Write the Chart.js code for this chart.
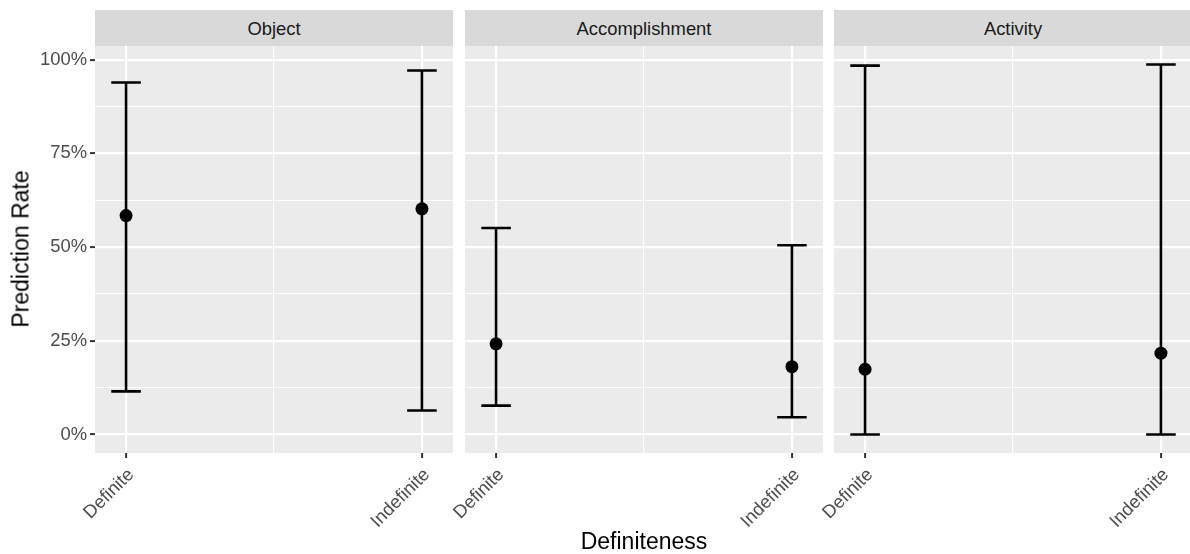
<!DOCTYPE html>
<html>
<head>
<meta charset="utf-8">
<script src="https://cdn.jsdelivr.net/npm/chart.js@4.4.1/dist/chart.umd.min.js"></script>
<style>
  html, body { margin:0; padding:0; background:#fff; }
  #wrap { position:relative; width:1190px; height:554px; overflow:hidden; background:#fff; font-family:"Liberation Sans", Arial, sans-serif; }
  .strip { position:absolute; top:10px; height:36px; line-height:37px; background:#D9D9D9; color:#1A1A1A; font-size:18.4px; text-align:center; }
  canvas { position:absolute; top:46px; }
  #ytitle { position:absolute; left:21px; top:249px; transform:translate(-50%,-50%) rotate(-90deg); font-size:23px; color:#000; white-space:nowrap; }
  #xtitle { position:absolute; left:644px; top:528px; transform:translateX(-50%); font-size:23px; color:#000; white-space:nowrap; line-height:26px; }
</style>
</head>
<body>
<div id="wrap">
  <div class="strip" id="s0" style="left:95px;width:358px;"></div>
  <div class="strip" id="s1" style="left:465px;width:358px;"></div>
  <div class="strip" id="s2" style="left:834px;width:358px;"></div>
  <canvas id="c0" width="453" height="508" style="left:0px;width:453px;height:508px;"></canvas>
  <canvas id="c1" width="418" height="508" style="left:405px;width:418px;height:508px;"></canvas>
  <canvas id="c2" width="418" height="508" style="left:774px;width:418px;height:508px;"></canvas>
  <div id="ytitle">Prediction Rate</div>
  <div id="xtitle">Definiteness</div>
</div>
<script>
// ---- data ----
const facets = ['Object', 'Accomplishment', 'Activity'];
const categories = ['Definite', 'Indefinite'];
const rateObject = [58.4, 60.2];
const lowerObject = [11.5, 6.4];
const upperObject = [93.9, 97.1];
const rateAccomplishment = [24.2, 18.1];
const lowerAccomplishment = [7.7, 4.6];
const upperAccomplishment = [55.1, 50.5];
const rateActivity = [17.4, 21.7];
const lowerActivity = [0, 0];
const upperActivity = [98.4, 98.7];
const yTickValues = [0, 25, 50, 75, 100];
const xTitle = 'Definiteness';
const yTitle = 'Prediction Rate';

// ---- build ----
const panels = [
  { name: facets[0], rate: rateObject, lower: lowerObject, upper: upperObject },
  { name: facets[1], rate: rateAccomplishment, lower: lowerAccomplishment, upper: upperAccomplishment },
  { name: facets[2], rate: rateActivity, lower: lowerActivity, upper: upperActivity }
];
document.getElementById('xtitle').textContent = xTitle;
document.getElementById('ytitle').textContent = yTitle;

const allLo = Math.min(...panels.flatMap(p => p.lower));
const allHi = Math.max(...panels.flatMap(p => p.upper));
const yPad = 0.05 * (allHi - allLo);
const yMin = allLo - yPad, yMax = allHi + yPad;

const capHalf = 0.05;
const xLo = 1 - capHalf, xHi = categories.length + capHalf;
const xPad = 0.05 * (xHi - xLo);
const xMin = xLo - xPad, xMax = xHi + xPad;

// major + minor grid positions
const yGrid = [];
yTickValues.forEach((v, i) => { yGrid.push(v); if (i < yTickValues.length - 1) yGrid.push((v + yTickValues[i + 1]) / 2); });
const xGrid = [];
categories.forEach((c, i) => { xGrid.push(i + 1); if (i < categories.length - 1) xGrid.push(i + 1.5); });

const isMajorY = v => yTickValues.includes(v);
const isMajorX = v => Number.isInteger(v);

const panelBg = {
  id: 'panelBg',
  beforeDraw(chart) {
    const { ctx, chartArea: a } = chart;
    ctx.save();
    ctx.fillStyle = '#EBEBEB';
    ctx.fillRect(a.left, a.top, a.right - a.left, a.bottom - a.top);
    ctx.restore();
  }
};

function whiskers(p) {
  const d = [];
  categories.forEach((c, i) => {
    const x = i + 1;
    d.push({ x: x - capHalf, y: p.upper[i] }, { x: x + capHalf, y: p.upper[i] }, { x: x, y: null });
    d.push({ x: x, y: p.upper[i] }, { x: x, y: p.lower[i] }, { x: x, y: null });
    d.push({ x: x - capHalf, y: p.lower[i] }, { x: x + capHalf, y: p.lower[i] }, { x: x, y: null });
  });
  return d;
}

const FONT = '"Liberation Sans", Arial, sans-serif';

panels.forEach((p, k) => {
  document.getElementById('s' + k).textContent = p.name;
  const first = k === 0;
  new Chart(document.getElementById('c' + k), {
    type: 'scatter',
    data: {
      datasets: [
        {
          label: 'rate',
          data: categories.map((c, i) => ({ x: i + 1, y: p.rate[i] })),
          pointRadius: 6.5,
          pointBackgroundColor: '#000',
          pointBorderWidth: 0,
          showLine: false
        },
        {
          label: 'ci',
          data: whiskers(p),
          showLine: true,
          spanGaps: false,
          pointRadius: 0,
          borderColor: '#000',
          borderWidth: 2.6,
          borderCapStyle: 'butt'
        }
      ]
    },
    options: {
      responsive: false,
      animation: false,
      devicePixelRatio: 1,
      layout: { padding: 0, autoPadding: false },
      plugins: { legend: { display: false }, tooltip: { enabled: false } },
      scales: {
        x: {
          type: 'linear',
          min: xMin, max: xMax,
          bounds: 'data',
          afterBuildTicks: s => { s.ticks = xGrid.map(v => ({ value: v })); },
          afterFit: s => { s.height = 101; s.paddingLeft = 0; s.paddingRight = 0; },
          border: { display: false },
          grid: {
            color: '#FFFFFF',
            lineWidth: c => (c.tick && isMajorX(c.tick.value)) ? 2.2 : 1.1,
            drawTicks: true,
            tickLength: 5,
            tickWidth: 2,
            tickColor: c => (c.tick && isMajorX(c.tick.value)) ? '#333333' : 'rgba(0,0,0,0)'
          },
          ticks: {
            autoSkip: false,
            minRotation: 45, maxRotation: 45,
            padding: 6,
            labelOffset: 5,
            color: '#4D4D4D',
            font: { family: FONT, size: 18.4 },
            callback: v => isMajorX(v) ? categories[v - 1] : ''
          }
        },
        y: {
          type: 'linear',
          min: yMin, max: yMax,
          bounds: 'data',
          afterBuildTicks: s => { s.ticks = yGrid.map(v => ({ value: v })); },
          afterFit: s => { s.width = first ? 95 : 60; s.paddingTop = 0; s.paddingBottom = 0; },
          border: { display: false },
          grid: {
            color: '#FFFFFF',
            lineWidth: c => (c.tick && isMajorY(c.tick.value)) ? 2.2 : 1.1,
            drawTicks: first,
            tickLength: 5,
            tickWidth: 2,
            tickColor: c => (c.tick && isMajorY(c.tick.value)) ? '#333333' : 'rgba(0,0,0,0)'
          },
          ticks: {
            display: first,
            padding: 3,
            color: '#4D4D4D',
            font: { family: FONT, size: 18.4 },
            callback: v => isMajorY(v) ? v + '%' : ''
          }
        }
      }
    },
    plugins: [panelBg]
  });
});
</script>
</body>
</html>
